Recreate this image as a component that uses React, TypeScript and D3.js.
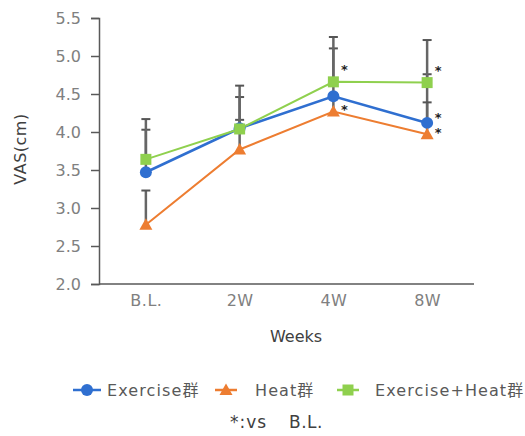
import React, { useEffect, useRef } from 'react';
import * as d3 from 'd3';

const weeks = ['B.L.', '2W', '4W', '8W'];
const yTicks = [2.0, 2.5, 3.0, 3.5, 4.0, 4.5, 5.0, 5.5];

const exerciseMean = [3.47, 4.05, 4.47, 4.12];
const exerciseSD = [0.56, 0.41, 0.63, 0.64];
const heatMean = [2.78, 3.77, 4.27, 3.97];
const heatSD = [0.45, 0.39, 0.22, 0.42];
const comboMean = [3.64, 4.04, 4.66, 4.65];
const comboSD = [0.53, 0.57, 0.59, 0.56];

// significant vs B.L.
const exerciseSig = ['8W'];
const heatSig = ['4W', '8W'];
const comboSig = ['4W', '8W'];

const width = 525;
const height = 436;
const FONT = '"DejaVu Sans", "Noto Sans CJK JP", sans-serif';

const App = () => {
    const chartRef = useRef<SVGSVGElement | null>(null);

    useEffect(() => {
        if (!chartRef.current) return;
        const svg = d3.select(chartRef.current);
        svg.selectAll('*').remove();

        const left = 99, right = 474, top = 18, bottom = 284;

        const x = d3.scalePoint<string>().domain(weeks).range([left, right]).padding(0.5);
        const y = d3.scaleLinear().domain([2, 5.5]).range([bottom, top]);

        const series = [
            { name: 'Exercise群', mean: exerciseMean, sd: exerciseSD, sig: exerciseSig, color: '#2f6fd0', shape: 'circle', lw: 2.6, dy: -6 },
            { name: 'Heat群', mean: heatMean, sd: heatSD, sig: heatSig, color: '#ed7d31', shape: 'triangle', lw: 2, dy: -2 },
            { name: 'Exercise+Heat群', mean: comboMean, sd: comboSD, sig: comboSig, color: '#8fd04e', shape: 'square', lw: 2, dy: -13 },
        ];

        // axes
        const yAxis = svg.append('g').attr('transform', `translate(${left},0)`)
            .call(d3.axisLeft(y).tickValues(yTicks).tickFormat(d3.format('.1f')).tickSize(8).tickPadding(10));
        yAxis.select('.domain').attr('stroke', '#595959').attr('stroke-width', 1.5);
        yAxis.selectAll('.tick line').attr('stroke', '#595959').attr('stroke-width', 1.5);
        yAxis.selectAll('.tick text').attr('fill', '#808080').attr('font-size', 16).attr('font-family', FONT);

        const xAxis = svg.append('g').attr('transform', `translate(0,${bottom})`)
            .call(d3.axisBottom(x).tickSize(0).tickPadding(11));
        xAxis.select('.domain').attr('d', `M${left},0H${right}`).attr('stroke', '#595959').attr('stroke-width', 1.5);
        xAxis.selectAll('.tick text').attr('fill', '#808080').attr('font-size', 16).attr('font-family', FONT)
            .attr('letter-spacing', 0.5);

        svg.append('text').attr('transform', `translate(26,${(top + bottom) / 2 - 2}) rotate(-90)`)
            .attr('text-anchor', 'middle').attr('font-size', 16).attr('font-family', FONT).attr('fill', '#404040')
            .attr('letter-spacing', 0.5).text('VAS(cm)');
        svg.append('text').attr('x', 296).attr('y', 342).attr('text-anchor', 'middle')
            .attr('font-size', 16).attr('font-family', FONT).attr('fill', '#404040').text('Weeks');

        // error bars (upper only)
        series.forEach((s) => {
            const g = svg.append('g');
            s.mean.forEach((m, i) => {
                const cx = x(weeks[i])!;
                const y0 = y(m), y1 = y(m + s.sd[i]);
                g.append('line').attr('x1', cx).attr('x2', cx).attr('y1', y0).attr('y2', y1)
                    .attr('stroke', '#666').attr('stroke-width', 2.5);
                g.append('line').attr('x1', cx - 4.5).attr('x2', cx + 4.5).attr('y1', y1).attr('y2', y1)
                    .attr('stroke', '#555').attr('stroke-width', 2);
            });
        });

        const line = d3.line<number>().x((_, i) => x(weeks[i])!).y((d) => y(d));

        const drawMarker = (g: any, shape: string, cx: number, cy: number, color: string) => {
            if (shape === 'circle') {
                g.append('circle').attr('cx', cx).attr('cy', cy).attr('r', 6).attr('fill', color);
            } else if (shape === 'square') {
                g.append('rect').attr('x', cx - 5.5).attr('y', cy - 5.5).attr('width', 11).attr('height', 11).attr('fill', color);
            } else {
                g.append('path').attr('d', `M${cx},${cy - 6.5}L${cx + 6.5},${cy + 5}L${cx - 6.5},${cy + 5}Z`).attr('fill', color);
            }
        };

        series.forEach((s) => {
            svg.append('path').datum(s.mean).attr('fill', 'none').attr('stroke', s.color)
                .attr('stroke-width', s.lw).attr('d', line);
        });
        series.forEach((s) => {
            const g = svg.append('g');
            s.mean.forEach((m, i) => drawMarker(g, s.shape, x(weeks[i])!, y(m), s.color));
        });

        // asterisks
        series.forEach((s) => {
            s.sig.forEach((w) => {
                const i = weeks.indexOf(w);
                svg.append('text').attr('x', x(w)! + 11).attr('y', y(s.mean[i]) + s.dy + 5)
                    .attr('text-anchor', 'middle').attr('font-size', 13).attr('font-family', FONT)
                    .attr('fill', '#222').attr('font-weight', 'bold').text('*');
            });
        });

        // legend
        const lg = svg.append('g');
        const lx = [73, 215, 337];
        const tx = [107, 255, 375];
        series.forEach((s, k) => {
            const x0 = lx[k];
            const len = k === 0 ? 28 : 22;
            lg.append('line').attr('x1', x0).attr('x2', x0 + len).attr('y1', 390).attr('y2', 390)
                .attr('stroke', s.color).attr('stroke-width', 2.5);
            drawMarker(lg, s.shape, x0 + len / 2, 390, s.color);
            lg.append('text').attr('x', tx[k]).attr('y', 396).attr('font-size', 16)
                .attr('letter-spacing', 1.1)
                .attr('font-family', FONT).attr('fill', '#595959').text(s.name);
        });
        lg.append('text').attr('x', 230).attr('y', 428).attr('font-size', 17)
            .attr('font-family', FONT).attr('fill', '#404040').attr('letter-spacing', 1).text('*:vs');
        lg.append('text').attr('x', 289).attr('y', 428).attr('font-size', 17)
            .attr('font-family', FONT).attr('fill', '#404040').attr('letter-spacing', 0.5).text('B.L.');
    }, []);

    return (
        <svg ref={chartRef} width={width} height={height}
            style={{ position: 'absolute', left: 0, top: 0, background: '#fff' }}></svg>
    );
};

export default App;
